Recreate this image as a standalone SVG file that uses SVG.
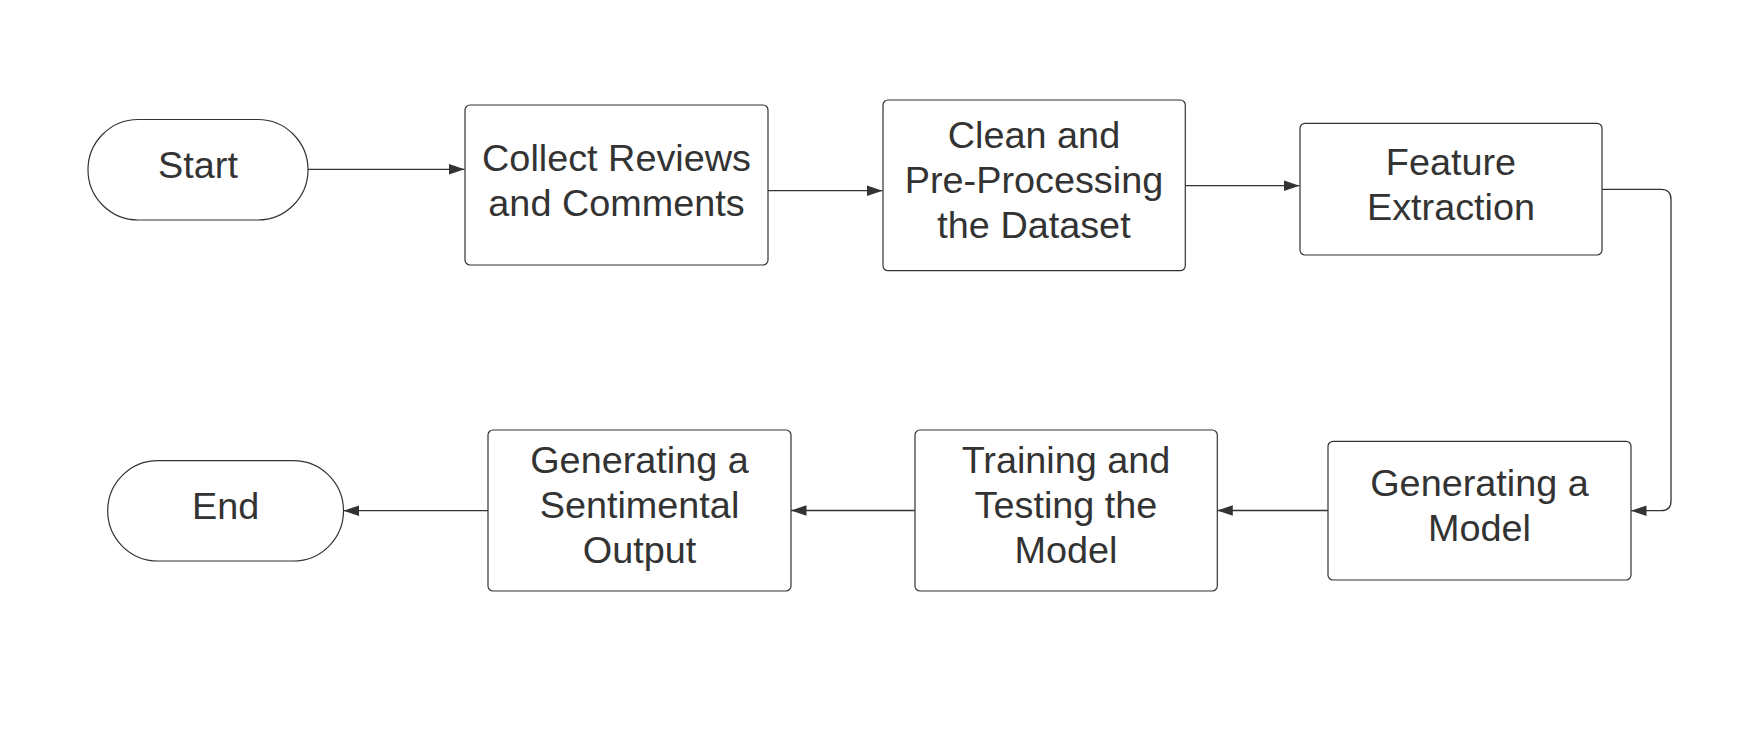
<svg xmlns="http://www.w3.org/2000/svg" width="1760" height="755" viewBox="0 0 1760 755">
<style>
.shape{fill:#ffffff;stroke:#333333;stroke-width:1.2}
.lbl{font-family:"Liberation Sans",Arial,sans-serif;font-size:37.8px;fill:#333333;text-anchor:middle}
.conn{fill:none;stroke:#333333;stroke-width:1.3;marker-end:url(#arr)}
</style>
<defs>
<marker id="arr" markerUnits="userSpaceOnUse" markerWidth="16" markerHeight="11" refX="15.5" refY="5.25" orient="auto">
<path d="M0,0 L15.5,5.25 L0,10.5 z" fill="#333333"/>
</marker>
</defs>
<rect width="1760" height="755" fill="#ffffff"/>
<g id="connectors">
<path class="conn" d="M308,169.3 H464.5"/>
<path class="conn" d="M768,190.7 H882.5"/>
<path class="conn" d="M1185.3,185.7 H1299.5"/>
<path class="conn" d="M1602,189.3 H1661 Q1671,189.3 1671,199.3 V500.7 Q1671,510.7 1661,510.7 H1631"/>
<path class="conn" d="M1327.8,510.5 H1217.3"/>
<path class="conn" d="M914.8,510.5 H791"/>
<path class="conn" d="M488,510.7 H343.5"/>
</g>
<g id="start">
<rect class="shape" x="88" y="119.5" width="220" height="100.5" rx="50.25"/>
<text class="lbl" x="198" y="178">Start</text>
</g>
<g id="collect">
<rect class="shape" x="465" y="105" width="303" height="160" rx="5"/>
<text class="lbl" x="616.5" y="171">Collect Reviews</text>
<text class="lbl" x="616.5" y="216">and Comments</text>
</g>
<g id="clean">
<rect class="shape" x="883" y="100" width="302.3" height="170.7" rx="5"/>
<text class="lbl" x="1034" y="148">Clean and</text>
<text class="lbl" x="1034" y="193">Pre-Processing</text>
<text class="lbl" x="1034" y="238">the Dataset</text>
</g>
<g id="feature">
<rect class="shape" x="1300" y="123.3" width="302" height="131.7" rx="5"/>
<text class="lbl" x="1451" y="174.5">Feature</text>
<text class="lbl" x="1451" y="219.5">Extraction</text>
</g>
<g id="genmodel">
<rect class="shape" x="1328" y="441.3" width="303" height="138.7" rx="5"/>
<text class="lbl" x="1479.5" y="496">Generating a</text>
<text class="lbl" x="1479.5" y="541">Model</text>
</g>
<g id="training">
<rect class="shape" x="915" y="430" width="302.3" height="161" rx="5"/>
<text class="lbl" x="1066" y="473">Training and</text>
<text class="lbl" x="1066" y="518">Testing the</text>
<text class="lbl" x="1066" y="563">Model</text>
</g>
<g id="gensent">
<rect class="shape" x="488" y="430" width="303" height="161" rx="5"/>
<text class="lbl" x="639.5" y="473">Generating a</text>
<text class="lbl" x="639.5" y="518">Sentimental</text>
<text class="lbl" x="639.5" y="563">Output</text>
</g>
<g id="end">
<rect class="shape" x="107.7" y="460.7" width="235.8" height="100.3" rx="50.15"/>
<text class="lbl" x="225.6" y="519">End</text>
</g>
</svg>
